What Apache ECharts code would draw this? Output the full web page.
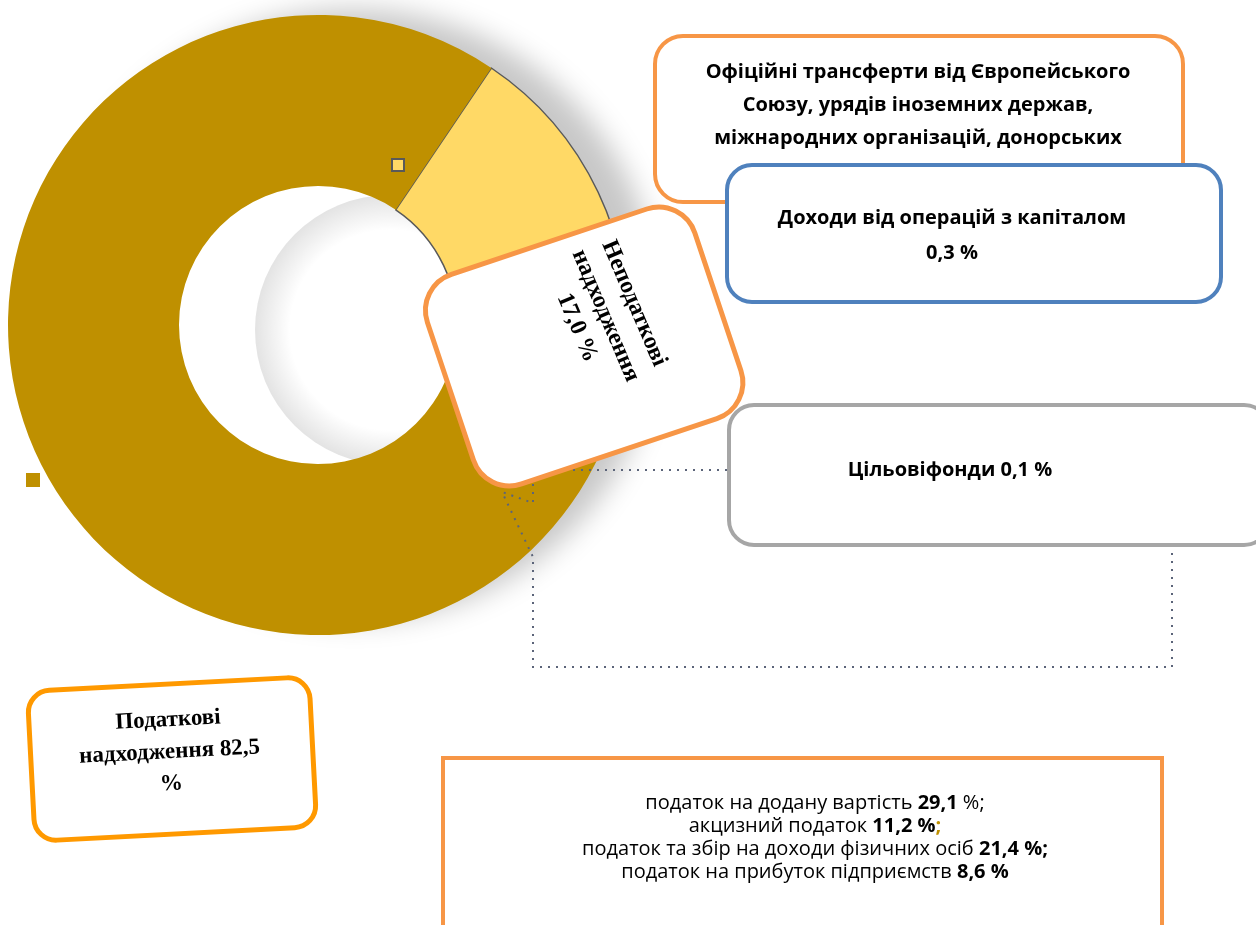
<!DOCTYPE html>
<html>
<head>
<meta charset="utf-8">
<title>Структура доходів</title>
<script src="https://cdn.jsdelivr.net/npm/echarts@6/dist/echarts.min.js"></script>
<style>
  html, body { margin: 0; padding: 0; background: #fff; }
  #chart { width: 1256px; height: 925px; }
</style>
</head>
<body>
<div id="chart"></div>
<script>
// slices in drawing order (clockwise from the yellow one)
const categories = [
  'Неподаткові надходження',
  'Доходи від операцій з капіталом',
  'Офіційні трансферти',
  'Цільові фонди',
  'Податкові надходження'
]
const shares = [17.0, 0.3, 0.1, 0.1, 82.5]
const sliceColors = ['#FFD966', '#4F81BD', '#F79646', '#A5A5A5', '#BF9000']

// breakdown of tax revenues
const taxItems = [
  'податок на додану вартість',
  'акцизний податок',
  'податок та збір на доходи фізичних осіб',
  'податок на прибуток підприємств'
]
const taxShares = [29.1, 11.2, 21.4, 8.6]

const pct = v => v.toFixed(1).replace('.', ',')

const chart = echarts.init(document.getElementById('chart'))

const calibri = '"Open Sans", "Liberation Sans", sans-serif'
const times = '"Liberation Serif", "DejaVu Serif", serif'
const dotted = { stroke: '#5B6479', lineWidth: 2, lineDash: [2, 6], fill: null }
const deg = Math.PI / 180

// bottom box lines, mixed bold
const taxLines = [
  '{r|' + taxItems[0] + ' }{b|' + pct(taxShares[0]) + '}{r| %;}',
  '{r|' + taxItems[1] + ' }{b|' + pct(taxShares[1]) + ' %}{g|;}',
  '{r|' + taxItems[2] + ' }{b|' + pct(taxShares[2]) + ' %;}',
  '{r|' + taxItems[3] + ' }{b|' + pct(taxShares[3]) + ' %}'
]

chart.setOption({
  animation: false,
  series: [{
    type: 'pie',
    center: [318, 325],
    radius: [139, 310],
    startAngle: 56,
    clockwise: true,
    silent: true,
    label: { show: false },
    labelLine: { show: false },
    data: categories.map((name, i) => ({
      name: name,
      value: shares[i],
      itemStyle: {
        color: sliceColors[i],
        borderColor: i === 0 ? '#595959' : 'transparent',
        borderWidth: i === 0 ? 1.5 : 0
      }
    }))
  }],
  graphic: [
    // soft shadow behind the ring
    {
      type: 'circle', z: 0, silent: true,
      shape: { cx: 318, cy: 325, r: 306 },
      style: { fill: '#fff', shadowBlur: 28, shadowOffsetX: 36, shadowOffsetY: -10, shadowColor: 'rgba(0,0,0,0.22)' }
    },
    {
      type: 'circle', z: 1, silent: true,
      shape: { cx: 390, cy: 330, r: 135 },
      style: {
        fill: new echarts.graphic.RadialGradient(0.5, 0.5, 0.5, [
          { offset: 0.74, color: 'rgba(0,0,0,0)' },
          { offset: 1, color: 'rgba(0,0,0,0.11)' }
        ])
      }
    },
    // legend keys of the labels
    {
      type: 'rect', z: 50, silent: true,
      shape: { x: 392, y: 159, width: 12, height: 12 },
      style: { fill: sliceColors[0], stroke: '#595959', lineWidth: 2 }
    },
    {
      type: 'rect', z: 50, silent: true,
      shape: { x: 26, y: 473, width: 14, height: 14 },
      style: { fill: sliceColors[4] }
    },
    // leader lines to the "цільові фонди" box
    { type: 'polyline', z: 60, silent: true, shape: { points: [[727, 470], [533, 470], [533, 503], [502, 492]] }, style: dotted },
    { type: 'polyline', z: 60, silent: true, shape: { points: [[1172, 545], [1172, 667], [533, 667], [533, 557], [502, 492]] }, style: dotted },
    // official transfers box
    {
      type: 'rect', z: 100, silent: true,
      shape: { x: 655, y: 36, width: 528, height: 166, r: 28 },
      style: { fill: '#fff', stroke: '#F79646', lineWidth: 4 }
    },
    {
      type: 'text', z: 101, silent: true,
      x: 918, y: 56,
      style: {
        text: 'Офіційні трансферти від Європейського\nСоюзу, урядів іноземних держав,\nміжнародних організацій, донорських',
        font: 'bold 20px ' + calibri, lineHeight: 33, align: 'center', verticalAlign: 'top', fill: '#000'
      }
    },
    // capital operations box
    {
      type: 'rect', z: 110, silent: true,
      shape: { x: 727, y: 165, width: 494, height: 137, r: 25 },
      style: { fill: '#fff', stroke: '#4F81BD', lineWidth: 4 }
    },
    {
      type: 'text', z: 111, silent: true,
      x: 952, y: 236,
      style: {
        text: categories[1] + '\n' + pct(shares[1]) + ' %',
        font: 'bold 20px ' + calibri, lineHeight: 35, align: 'center', verticalAlign: 'middle', fill: '#000'
      }
    },
    // target funds box
    {
      type: 'rect', z: 100, silent: true,
      shape: { x: 729, y: 405, width: 540, height: 140, r: 25 },
      style: { fill: '#fff', stroke: '#A6A6A6', lineWidth: 4 }
    },
    {
      type: 'text', z: 101, silent: true,
      x: 950, y: 470,
      style: {
        text: 'Цільовіфонди ' + pct(shares[3]) + ' %',
        font: 'bold 20px ' + calibri, align: 'center', verticalAlign: 'middle', fill: '#000'
      }
    },
    // non-tax revenues, tilted box with vertical text
    {
      type: 'group', z: 120, silent: true,
      x: 584, y: 346, rotation: 18.5 * deg,
      children: [
        {
          type: 'rect', z: 120,
          shape: { x: -141, y: -110, width: 282, height: 221, r: 38 },
          style: { fill: '#fff', stroke: '#F79646', lineWidth: 5 }
        },
        {
          type: 'text', z: 121,
          x: 30, y: -22, rotation: -90 * deg + 4.5 * deg,
          style: {
            text: 'Неподаткові\nнадходження\n' + pct(shares[0]) + ' %',
            font: 'bold 24px ' + times, lineHeight: 31, align: 'center', verticalAlign: 'middle', fill: '#000'
          }
        }
      ]
    },
    // tax revenues box
    {
      type: 'group', z: 120, silent: true,
      x: 172, y: 759, rotation: 3 * deg,
      children: [
        {
          type: 'rect', z: 120,
          shape: { x: -141, y: -75, width: 282, height: 150, r: 22 },
          style: { fill: '#fff', stroke: '#FF9900', lineWidth: 5 }
        },
        {
          type: 'text', z: 121,
          x: -2, y: -7,
          style: {
            text: 'Податкові\nнадходження ' + pct(shares[4]) + '\n%',
            font: 'bold 23px ' + times, lineHeight: 32, align: 'center', verticalAlign: 'middle', fill: '#000'
          }
        }
      ]
    },
    // breakdown box at the bottom
    {
      type: 'rect', z: 100, silent: true,
      shape: { x: 443, y: 758, width: 719, height: 220 },
      style: { fill: '#fff', stroke: '#F79646', lineWidth: 4 }
    },
    {
      type: 'text', z: 101, silent: true,
      x: 815, y: 838,
      style: {
        text: taxLines.join('\n'),
        align: 'center', verticalAlign: 'middle',
        rich: {
          r: { font: '20px ' + calibri, fill: '#000', lineHeight: 23 },
          b: { font: 'bold 20px ' + calibri, fill: '#000', lineHeight: 23 },
          g: { font: 'bold 20px ' + calibri, fill: '#BF9000', lineHeight: 23 }
        }
      }
    }
  ]
})
</script>
</body>
</html>
